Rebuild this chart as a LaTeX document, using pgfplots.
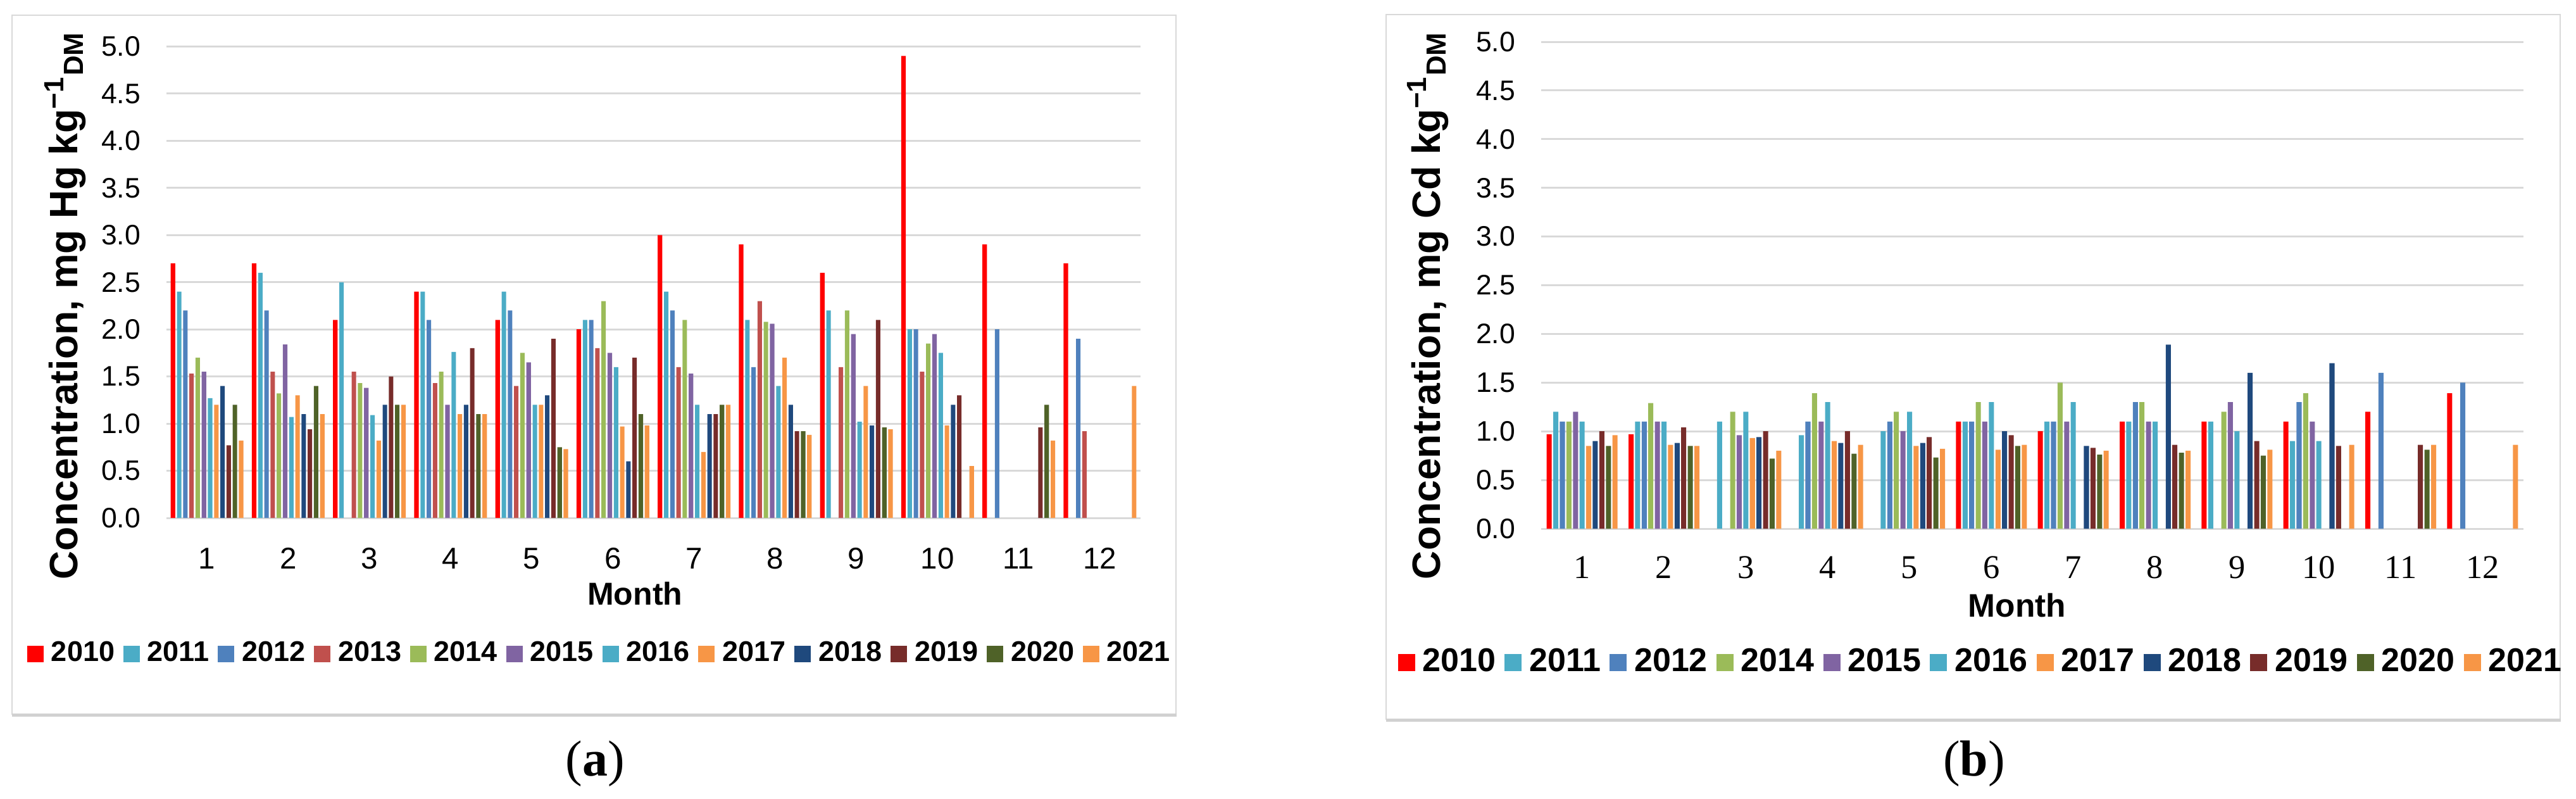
\documentclass[border=0pt]{standalone}
\usepackage{fontspec}
\setmainfont{Liberation Sans}
\newfontfamily\seriffont{Liberation Serif}
\usepackage{pgfplots}
\usepackage{pgfplotstable}
\pgfplotsset{compat=1.18}

\definecolor{c2010}{HTML}{FF0000}
\definecolor{c2011}{HTML}{4BACC6}
\definecolor{c2012}{HTML}{4F81BD}
\definecolor{c2013}{HTML}{C0504D}
\definecolor{c2014}{HTML}{9BBB59}
\definecolor{c2015}{HTML}{8064A2}
\definecolor{c2016}{HTML}{4BACC6}
\definecolor{c2017}{HTML}{F79646}
\definecolor{c2018}{HTML}{1F497D}
\definecolor{c2019}{HTML}{772C2A}
\definecolor{c2020}{HTML}{4F6228}
\definecolor{c2021}{HTML}{F79646}
\definecolor{gridc}{HTML}{D9D9D9}
\definecolor{framec}{HTML}{D9D9D9}

% Panel (a): Hg
\pgfplotstableread{
month y2010 y2011 y2012 y2013 y2014 y2015 y2016 y2017 y2018 y2019 y2020 y2021
1  2.70 2.40 2.20 1.53 1.70 1.55 1.27 1.20 1.40 0.77 1.20 0.82
2  2.70 2.60 2.20 1.55 1.32 1.84 1.07 1.30 1.10 0.94 1.40 1.10
3  2.10 2.50 nan  1.55 1.43 1.38 1.09 0.82 1.20 1.50 1.20 1.20
4  2.40 2.40 2.10 1.43 1.55 1.20 1.76 1.10 1.20 1.80 1.10 1.10
5  2.10 2.40 2.20 1.40 1.75 1.65 1.20 1.20 1.30 1.90 0.75 0.73
6  2.00 2.10 2.10 1.80 2.30 1.75 1.60 0.97 0.60 1.70 1.10 0.98
7  3.00 2.40 2.20 1.60 2.10 1.53 1.20 0.70 1.10 1.10 1.20 1.20
8  2.90 2.10 1.60 2.30 2.08 2.06 1.40 1.70 1.20 0.92 0.92 0.88
9  2.60 2.20 nan  1.60 2.20 1.95 1.02 1.40 0.98 2.10 0.96 0.94
10 4.90 2.00 2.00 1.55 1.85 1.95 1.75 0.98 1.20 1.30 nan  0.55
11 2.90 nan  2.00 nan  nan  nan  nan  nan  nan  0.96 1.20 0.82
12 2.70 nan  1.90 0.92 nan  nan  nan  nan  nan  nan  nan  1.40
}\dataA

% Panel (b): Cd
\pgfplotstableread{
month y2010 y2011 y2012 y2014 y2015 y2016 y2017 y2018 y2019 y2020 y2021
1  0.97 1.20 1.10 1.10 1.20 1.10 0.85 0.90 1.00 0.85 0.96
2  0.97 1.10 1.10 1.29 1.10 1.10 0.86 0.88 1.04 0.85 0.85
3  nan  1.10 nan  1.20 0.96 1.20 0.93 0.94 1.00 0.72 0.80
4  nan  0.96 1.10 1.39 1.10 1.30 0.90 0.88 1.00 0.77 0.86
5  nan  1.00 1.10 1.20 1.00 1.20 0.85 0.88 0.94 0.73 0.82
6  1.10 1.10 1.10 1.30 1.10 1.30 0.81 1.00 0.96 0.85 0.86
7  1.00 1.10 1.10 1.50 1.10 1.30 nan  0.85 0.83 0.76 0.80
8  1.10 1.10 1.30 1.30 1.10 1.10 nan  1.89 0.86 0.78 0.80
9  1.10 1.10 nan  1.20 1.30 1.00 nan  1.60 0.90 0.75 0.81
10 1.10 0.90 1.30 1.39 1.10 0.90 nan  1.70 0.85 nan  0.86
11 1.20 nan  1.60 nan  nan  nan  nan  nan  0.86 0.81 0.86
12 1.39 nan  1.50 nan  nan  nan  nan  nan  nan  nan  0.86
}\dataB

\pgfplotsset{
  panel/.style={
    ybar, scale only axis,
    xmin=0.5, xmax=12.5, ymin=0, ymax=5,
    xtick={1,2,3,4,5,6,7,8,9,10,11,12},
    xticklabels={1,2,3,4,5,6,7,8,9,10,11,12},
    ytick={0,0.5,1,1.5,2,2.5,3,3.5,4,4.5,5},
    yticklabels={0.0,0.5,1.0,1.5,2.0,2.5,3.0,3.5,4.0,4.5,5.0},
    ymajorgrids, major grid style={draw=gridc, line width=0.6pt},
    axis line style={draw=none}, major tick length=0pt,
    yticklabel style={anchor=east, inner sep=0pt, xshift=-8pt, font=\fontsize{8.9}{10}\selectfont},
    legend columns=-1,
    legend style={draw=none, fill=none, inner sep=0pt, outer sep=0pt, anchor=center,
      nodes={inner sep=0pt},
      /tikz/every odd column/.append style={column sep=2.4pt}},
  },
  sqa/.style={fill=#1, draw=none, legend image code/.code={\fill[#1] (0pt,-2.6pt) rectangle (5.2pt,2.6pt);}},
  sqb/.style={fill=#1, draw=none, legend image code/.code={\fill[#1] (0pt,-2.7pt) rectangle (5.4pt,2.7pt);}},
}

\begin{document}
\begin{tikzpicture}
\useasboundingbox (0,0) rectangle (814pt,252.2pt);
\fill[white] (0,0) rectangle (814pt,252.2pt);

% frames
\draw[framec, line width=0.5pt] (3.8pt,26.6pt) rectangle (371.6pt,247.4pt);
\draw[black!18, line width=1pt] (3.8pt,26.4pt) -- (371.8pt,26.4pt);
\draw[framec, line width=0.5pt] (438pt,25pt) rectangle (809pt,247.6pt);
\draw[black!18, line width=1pt] (438pt,24.8pt) -- (809.2pt,24.8pt);

% ---------------- Panel (a)
\begin{axis}[panel,
  at={(52.6pt,88.6pt)}, anchor=south west,
  width=307.8pt, height=148.9pt,
  bar width=0.055,
  xticklabel style={anchor=base, inner sep=0pt, yshift=-16pt, font=\fontsize{9.5}{11}\selectfont},
  xlabel={Month},
  xlabel style={at={(axis description cs:0.481,-0.184)}, anchor=base, font=\bfseries\fontsize{10}{12}\selectfont},
  ylabel={Concentration, mg Hg kg\textsuperscript{−1}\textsubscript{DM}},
  ylabel style={at={(axis description cs:-0.0916,0.451)}, anchor=base, font=\bfseries\fontsize{12.5}{14}\selectfont},
  legend style={at={(axis description cs:0.4438,-0.2888)}, font=\bfseries\fontsize{9}{11}\selectfont,
    /tikz/every even column/.append style={column sep=2.75pt}},
]
\addplot[sqa=c2010, bar shift=-0.4202] table[x=month,y=y2010]{\dataA}; \addlegendentry{2010}
\addplot[sqa=c2011, bar shift=-0.3438] table[x=month,y=y2011]{\dataA}; \addlegendentry{2011}
\addplot[sqa=c2012, bar shift=-0.2674] table[x=month,y=y2012]{\dataA}; \addlegendentry{2012}
\addplot[sqa=c2013, bar shift=-0.1910] table[x=month,y=y2013]{\dataA}; \addlegendentry{2013}
\addplot[sqa=c2014, bar shift=-0.1146] table[x=month,y=y2014]{\dataA}; \addlegendentry{2014}
\addplot[sqa=c2015, bar shift=-0.0382] table[x=month,y=y2015]{\dataA}; \addlegendentry{2015}
\addplot[sqa=c2016, bar shift=0.0382] table[x=month,y=y2016]{\dataA}; \addlegendentry{2016}
\addplot[sqa=c2017, bar shift=0.1146] table[x=month,y=y2017]{\dataA}; \addlegendentry{2017}
\addplot[sqa=c2018, bar shift=0.1910] table[x=month,y=y2018]{\dataA}; \addlegendentry{2018}
\addplot[sqa=c2019, bar shift=0.2674] table[x=month,y=y2019]{\dataA}; \addlegendentry{2019}
\addplot[sqa=c2020, bar shift=0.3438] table[x=month,y=y2020]{\dataA}; \addlegendentry{2020}
\addplot[sqa=c2021, bar shift=0.4202] table[x=month,y=y2021]{\dataA}; \addlegendentry{2021}
\end{axis}

% ---------------- Panel (b)
\begin{axis}[panel,
  at={(487pt,85.2pt)}, anchor=south west,
  width=310.4pt, height=153.8pt,
  bar width=0.062,
  xticklabel style={anchor=base, inner sep=0pt, yshift=-15.6pt, font=\seriffont\fontsize{10.5}{12}\selectfont},
  xlabel={Month},
  xlabel style={at={(axis description cs:0.4845,-0.182)}, anchor=base, font=\bfseries\fontsize{10.3}{12}\selectfont},
  ylabel={Concentration, mg Cd kg\textsuperscript{−1}\textsubscript{DM}},
  ylabel style={at={(axis description cs:-0.1031,0.459)}, anchor=base, font=\bfseries\fontsize{12.5}{14}\selectfont},
  legend style={at={(axis description cs:0.4465,-0.2744)}, font=\bfseries\fontsize{10.4}{12}\selectfont,
    /tikz/every even column/.append style={column sep=2.8pt}},
]
\addplot[sqb=c2010, bar shift=-0.4020] table[x=month,y=y2010]{\dataB}; \addlegendentry{2010}
\addplot[sqb=c2011, bar shift=-0.3216] table[x=month,y=y2011]{\dataB}; \addlegendentry{2011}
\addplot[sqb=c2012, bar shift=-0.2412] table[x=month,y=y2012]{\dataB}; \addlegendentry{2012}
\addplot[sqb=c2014, bar shift=-0.1608] table[x=month,y=y2014]{\dataB}; \addlegendentry{2014}
\addplot[sqb=c2015, bar shift=-0.0804] table[x=month,y=y2015]{\dataB}; \addlegendentry{2015}
\addplot[sqb=c2016, bar shift=0] table[x=month,y=y2016]{\dataB}; \addlegendentry{2016}
\addplot[sqb=c2017, bar shift=0.0804] table[x=month,y=y2017]{\dataB}; \addlegendentry{2017}
\addplot[sqb=c2018, bar shift=0.1608] table[x=month,y=y2018]{\dataB}; \addlegendentry{2018}
\addplot[sqb=c2019, bar shift=0.2412] table[x=month,y=y2019]{\dataB}; \addlegendentry{2019}
\addplot[sqb=c2020, bar shift=0.3216] table[x=month,y=y2020]{\dataB}; \addlegendentry{2020}
\addplot[sqb=c2021, bar shift=0.4020] table[x=month,y=y2021]{\dataB}; \addlegendentry{2021}
\end{axis}

% panel labels
\node[font=\seriffont\fontsize{16}{18}\selectfont, inner sep=0pt] at (188pt,11pt) {(\textbf{a})};
\node[font=\seriffont\fontsize{16}{18}\selectfont, inner sep=0pt] at (623.8pt,11pt) {(\textbf{b})};
\end{tikzpicture}
\end{document}
